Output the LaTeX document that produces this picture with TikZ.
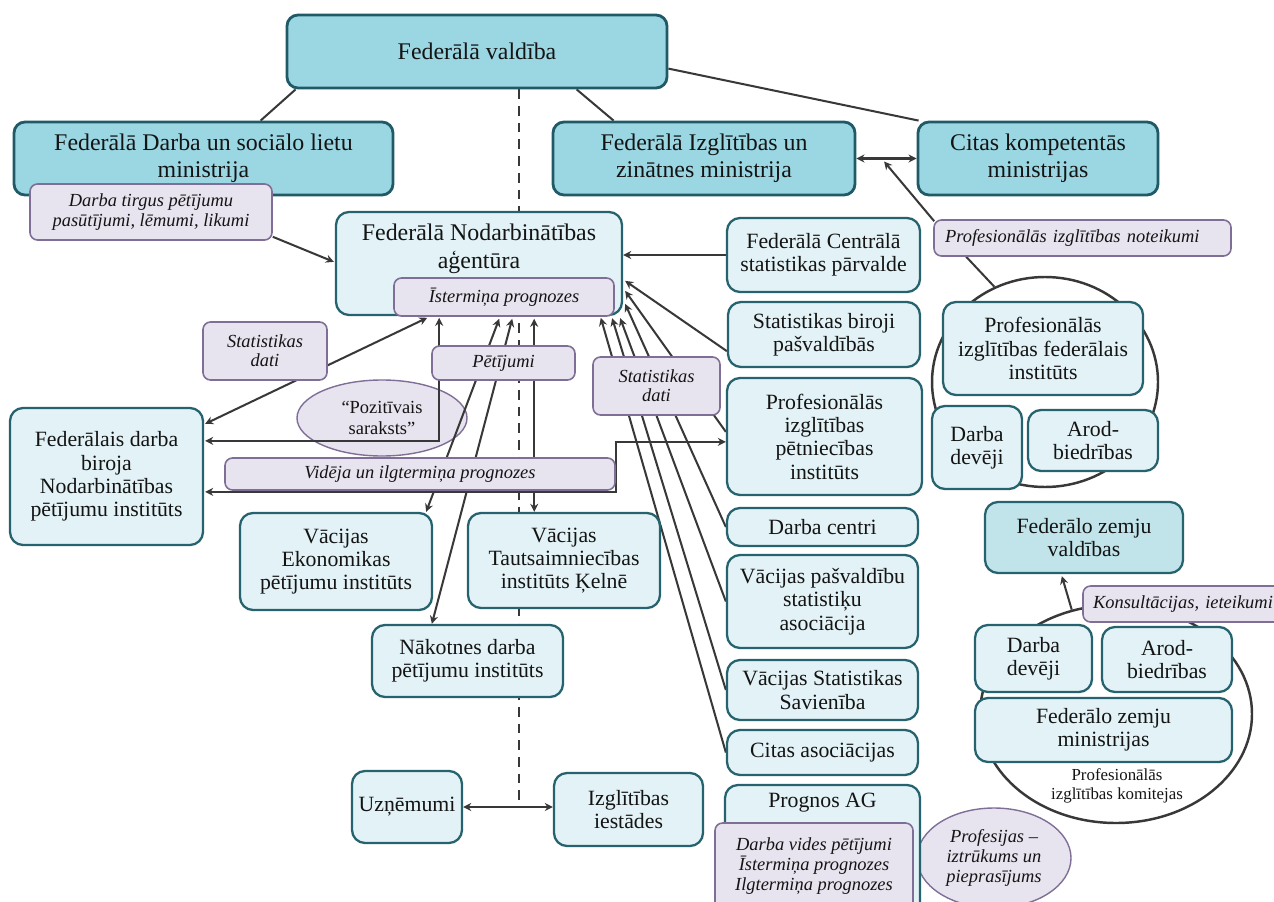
\documentclass[tikz,border=0pt]{standalone}
\usepackage{fontspec}
\setmainfont{Liberation Serif}
\usetikzlibrary{arrows.meta,calc,shapes.geometric}
\pgfdeclarelayer{back}
\pgfdeclarelayer{lines}
\pgfsetlayers{back,lines,main}
\definecolor{tealF}{HTML}{9BD7E3}
\definecolor{tealD}{HTML}{1F5A66}
\definecolor{lightF}{HTML}{E2F2F6}
\definecolor{lightD}{HTML}{27636F}
\definecolor{midF}{HTML}{C1E4EB}
\definecolor{purF}{HTML}{E8E4EF}
\definecolor{purD}{HTML}{7F6F96}
\definecolor{lineC}{HTML}{383838}
\definecolor{txtC}{HTML}{141414}
\tikzset{
  tealbox/.style={draw=tealD, fill=tealF, line width=1.6pt, rounded corners=0.22cm, inner sep=0pt, align=center, text=txtC, font=\fontsize{13.6}{15.5}\selectfont},
  tealtxt/.style={inner sep=0pt, align=center, text=txtC, font=\fontsize{13.6}{15.5}\selectfont},
  lbox/.style={draw=lightD, fill=lightF, line width=1.3pt, rounded corners=0.26cm, inner sep=0pt, align=center, text=txtC, font=\fontsize{12.4}{13.3}\selectfont},
  ltxt/.style={inner sep=0pt, align=center, text=txtC, font=\fontsize{12.4}{13.3}\selectfont},
  midbox/.style={lbox, fill=midF},
  lbl/.style={draw=purD, fill=purF, line width=0.9pt, rounded corners=0.15cm, inner sep=0pt, align=center, text=txtC, font=\fontsize{10.5}{11}\selectfont\itshape},
  ell/.style={ellipse, draw=purD, fill=purF, line width=0.8pt, inner sep=0pt, align=center, text=txtC},
  ring/.style={ellipse, draw=lineC, line width=1.4pt, inner sep=0pt},
  smalltxt/.style={inner sep=0pt, align=center, text=txtC, font=\fontsize{9.6}{10.4}\selectfont},
  ln/.style={draw=lineC, line width=1.15pt},
  arr/.style={ln, -{Stealth[length=4.6pt,width=4.6pt]}},
  dbl/.style={ln, {Stealth[length=4.6pt,width=4.6pt]}-{Stealth[length=4.6pt,width=4.6pt]}},
  dashln/.style={draw=lineC, line width=1.15pt, dash pattern=on 5.5pt off 4pt}
}
\newcommand\bx[7]{\node[#2, minimum width={(#5-#3)*0.02cm}, minimum height={(#6-#4)*0.02cm}] (#1) at ({(#3+#5)/2},{(#4+#6)/2}) {#7};}
\begin{document}
\begin{tikzpicture}[x=0.02cm,y=-0.02cm]
\useasboundingbox (0,0) rectangle (1274,902);
% ---- main nodes
\bx{fv}{tealbox}{287}{15}{667}{88}{Federālā valdība}
\bx{bmas}{tealbox}{14}{122}{393}{195}{Federālā Darba un sociālo lietu\\ministrija}
\bx{bmbf}{tealbox}{553}{122}{855}{195}{Federālā Izglītības un\\zinātnes ministrija}
\bx{citas}{tealbox}{918}{122}{1158}{195}{Citas kompetentās\\ministrijas}
\bx{lbl1}{lbl}{30}{184}{272}{240}{Darba tirgus pētījumu\\pasūtījumi, lēmumi, likumi}
\bx{fna}{lbox}{336}{212}{622}{315}{}
\node[tealtxt] (fnat) at ($(fna.north)+(0,38)$) {Federālā Nodarbinātības\\aģentūra};
\bx{ist}{lbl}{394}{278}{614}{316}{Īstermiņa prognozes}
\bx{fcsp}{lbox}{727}{218}{920}{292}{Federālā Centrālā\\statistikas pārvalde}
\bx{sbp}{lbox}{728}{302}{920}{367}{Statistikas biroji\\pašvaldībās}
\bx{lblnot}{lbl, inner xsep=0.22cm, text width=5.5cm, align=left}{934}{220}{1231}{256}{Profesionālās izglītības noteikumi}
\bx{bibb}{lbox}{943}{302}{1143}{395}{Profesionālās\\izglītības federālais\\institūts}
\bx{dd1}{lbox}{932}{406}{1022}{489}{Darba\\devēji}
\bx{ab1}{lbox}{1028}{410}{1158}{471}{Arod-\\biedrības}
\bx{pip}{lbox}{727}{378}{922}{495}{Profesionālās\\izglītības\\pētniecības\\institūts}
\bx{dc}{lbox}{727}{508}{918}{546}{Darba centri}
\bx{vps}{lbox}{727}{555}{918}{648}{Vācijas pašvaldību\\statistiķu\\asociācija}
\bx{vss}{lbox}{727}{660}{918}{720}{Vācijas Statistikas\\Savienība}
\bx{ca}{lbox}{727}{730}{918}{775}{Citas asociācijas}
\node[ell, font=\fontsize{10.5}{11.2}\selectfont\itshape, minimum width={154*0.02cm}, minimum height={100*0.02cm}] (prof) at (994,858) {Profesijas –\\iztrūkums un\\pieprasījums};
\bx{prog}{lbox}{725}{785}{920}{915}{}
\node[ltxt] (progt) at ($(prog.north)+(0,19)$) {Prognos AG};
\bx{lblprog}{lbl, font=\fontsize{10.5}{11.4}\selectfont\itshape}{715}{823}{913}{910}{Darba vides pētījumi\\Īstermiņa prognozes\\Ilgtermiņa prognozes}
\bx{fzv}{midbox}{985}{502}{1183}{573}{Federālo zemju\\valdības}
\bx{lblkons}{lbl, inner xsep=0.2cm, text width=3.74cm, align=left}{1083}{586}{1290}{622}{Konsultācijas, ieteikumi}
\bx{dd2}{lbox}{975}{625}{1092}{692}{Darba\\devēji}
\bx{ab2}{lbox}{1102}{627}{1232}{692}{Arod-\\biedrības}
\bx{fzm}{lbox}{975}{698}{1232}{762}{Federālo zemju\\ministrijas}
\node[smalltxt] (komt) at (1117,786) {Profesionālās\\izglītības komitejas};
\bx{lblsd1}{lbl}{203}{322}{327}{380}{Statistikas\\dati}
\bx{iab}{lbox}{10}{408}{203}{545}{Federālais darba\\biroja\\Nodarbinātības\\pētījumu institūts}
\bx{lblpet}{lbl}{432}{346}{575}{380}{Pētījumi}
\bx{lblsd2}{lbl}{593}{357}{720}{415}{Statistikas\\dati}
\bx{lblvid}{lbl}{225}{458}{615}{490}{Vidēja un ilgtermiņa prognozes}
\bx{diw}{lbox}{240}{513}{432}{610}{Vācijas\\Ekonomikas\\pētījumu institūts}
\bx{iw}{lbox}{468}{513}{660}{608}{Vācijas\\Tautsaimniecības\\institūts Ķelnē}
\bx{iza}{lbox}{372}{625}{563}{697}{Nākotnes darba\\pētījumu institūts}
\bx{unt}{lbox}{352}{771}{462}{843}{Uzņēmumi}
\bx{bild}{lbox}{554}{773}{703}{846}{Izglītības\\iestādes}
% ---- back layer: rings, ellipse, dashed line
\begin{pgfonlayer}{back}
\node[ring, minimum width={226*0.02cm}, minimum height={210*0.02cm}] (ring1) at (1045,382) {};
\node[ring, minimum width={272*0.02cm}, minimum height={218*0.02cm}] (ring2) at (1116,714) {};
\node[ell, font=\fontsize{10.5}{11.5}\selectfont, minimum width={170*0.02cm}, minimum height={76*0.02cm}] (poz) at (382,418) {“Pozitīvais\\saraksts”};
\coordinate (dtop) at ($(fv.south west)+(233,0)$);
\draw[dashln] (dtop) -- (dtop |- unt.east);
\end{pgfonlayer}
% ---- connectors
\begin{pgfonlayer}{lines}
\draw[ln] ($(fv.south west)+(10,0)$) -- ($(bmas.north west)+(248,0)$);
\draw[ln] ($(fv.south west)+(291,0)$) -- ($(bmbf.north west)+(62,0)$);
\draw[ln] ($(fv.north east)+(0,55)$) -- ($(citas.north west)+(2,0)$);
\draw[dbl] (bmbf.east) -- (citas.west);
\draw[arr] ($(lblnot.north west)+(1,2)$) -- ($(bmbf.east)!0.46!(citas.west)+(0,3)$);
\draw[ln] ($(lblnot.south west)+(33,0)$) -- (ring1.118);
\draw[arr] ($(lbl1.south east)+(0,-4)$) -- ($(fna.north west)+(-1,51)$);
\draw[arr] (fcsp.west) -- (fcsp.west -| fna.east);
\draw[arr] ($(sbp.south west)+(0,-17)$) -- ($(fna.north east)+(2,70)$);
\draw[arr] ($(pip.north west)+(0,55)$) -- ($(fna.north east)+(2,80)$);
\draw[arr] (dc.west) -- ($(fna.north east)+(2,93)$);
\draw[arr] (vps.west) -- ($(fna.south east)+(-3,2)$);
\draw[arr] (vss.west) -- ($(fna.south east)+(-11,2)$);
\draw[arr] (ca.west) -- ($(ist.south east)+(-14,1)$);
\draw[dbl] ($(iab.north east)+(1,17)$) -- ($(ist.south west)+(34,1)$);
\draw[dbl] ($(iab.north east)+(1,34)$) -| ($(ist.south west)+(46,1)$);
\draw[dbl] ($(iab.north east)+(1,85)$) -| ($(pip.north west)+(-110,65)$) -- ($(pip.north west)+(0,65)$);
\draw[dbl] ($(ist.south west)+(106,2)$) -- ($(diw.north east)+(-7,0)$);
\draw[dbl] ($(ist.south west)+(119,2)$) -- ($(iza.north west)+(61,0)$);
\coordinate (istiw) at ($(ist.south west)+(141,2)$);
\draw[dbl] (istiw) -- (istiw |- iw.north);
\draw[dbl] (unt.east) -- (unt.east -| bild.west);
\draw[arr] (ring2.113) -- ($(fzv.south west)+(78,2)$);
\end{pgfonlayer}
\end{tikzpicture}
\end{document}
